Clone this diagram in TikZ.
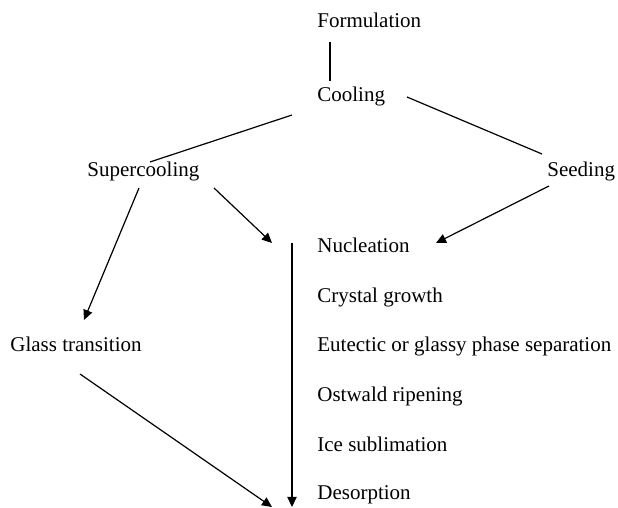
\documentclass[tikz,border=0pt]{standalone}
\usepackage{fontspec}
\setmainfont{Liberation Serif}
\usepackage{tikz}
\usetikzlibrary{positioning}
\usetikzlibrary{arrows.meta,calc}

\tikzset{
  lbl/.style={anchor=base west, inner sep=0pt, font=\fontsize{10.5}{12}\selectfont},
  lnk/.style={line width=0.6pt},
  arr/.style={line width=0.6pt, -{Triangle[length=5pt,width=4.6pt]}}
}

\begin{document}
\begin{tikzpicture}[x=0.5pt, y=-0.5pt]

\useasboundingbox (0,0) rectangle (618,508);

\node[lbl] (form) at (317,28) {Formulation};
\node[lbl] (cool) at (317,102) {Cooling};
\node[lbl] (supc) at (87,177) {Supercooling};
\node[lbl] (seed) at (547,177) {Seeding};
\node[lbl] (glass) at (10,352) {Glass transition};

% stages of the process
\foreach \nm/\txt/\y in {nucl/Nucleation/253, cryst/Crystal growth/303,
    eut/Eutectic or glassy phase separation/352, ostw/Ostwald ripening/402,
    ice/Ice sublimation/452, deso/Desorption/500}
  \node[lbl] (\nm) at (317,\y) {\txt};

\coordinate (ptop) at ($(nucl.base west)+(-25,-10)$);
\coordinate (pbot) at ($(deso.base west)+(-25,7)$);

\draw[lnk] ($(form.base west)+(13,14)$) -- ($(cool.base west)+(13,-21)$);
\draw[lnk] ($(cool.base west)+(-25,13)$) -- ($(supc.base west)+(63,-15)$);
\draw[lnk] ($(cool.base west)+(90,-5)$) -- ($(seed.base west)+(-5,-23)$);

\draw[arr] ($(supc.base west)+(127,11)$) -- ($(ptop)+(-20,0)$);
\draw[arr] ($(seed.base west)+(2,9)$) -- ($(nucl.base west)+(119,-10)$);
\draw[arr] ($(supc.base west)+(52,11)$) -- ($(glass.base west)+(74,-32)$);
\draw[arr] ($(glass.base west)+(70,22)$) -- ($(pbot)+(-20,0)$);
\draw[arr] (ptop) -- (pbot);

\end{tikzpicture}
\end{document}
